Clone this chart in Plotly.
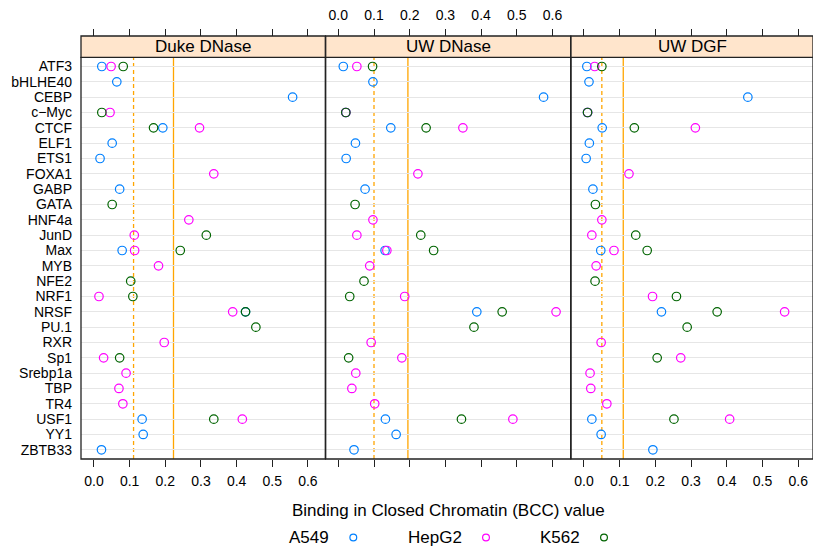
import plotly.graph_objects as go

# ---------------- data ----------------
factors = ["ATF3", "bHLHE40", "CEBP", "c\u2212Myc", "CTCF", "ELF1", "ETS1", "FOXA1",
           "GABP", "GATA", "HNF4a", "JunD", "Max", "MYB", "NFE2", "NRF1", "NRSF",
           "PU.1", "RXR", "Sp1", "Srebp1a", "TBP", "TR4", "USF1", "YY1", "ZBTB33"]
panels = ["Duke DNase", "UW DNase", "UW DGF"]
cell_lines = ["A549", "HepG2", "K562"]
x_ticks = [0.0, 0.1, 0.2, 0.3, 0.4, 0.5, 0.6]
x_tick_text = ["0.0", "0.1", "0.2", "0.3", "0.4", "0.5", "0.6"]

N = None
duke_a549 = [0.022, 0.064, 0.557, N, 0.193, 0.051, 0.017, N, 0.072, N, N, N, 0.079, N, N, N, 0.425, N, N, N, N, N, N, 0.135, 0.138, 0.021]
duke_hepg2 = [0.048, N, N, 0.045, 0.296, N, N, 0.336, N, N, 0.266, 0.113, 0.114, 0.181, N, 0.014, 0.389, N, 0.197, 0.027, 0.090, 0.070, 0.081, 0.416, N, N]
duke_k562 = [0.082, N, N, 0.022, 0.167, N, N, N, N, 0.051, N, 0.315, 0.242, N, 0.103, 0.109, 0.425, 0.454, N, 0.072, N, N, N, 0.336, N, N]

uwdn_a549 = [0.014, 0.097, 0.575, 0.021, 0.147, 0.048, 0.022, N, 0.075, N, N, N, 0.131, N, N, N, 0.388, N, N, N, N, N, N, 0.132, 0.162, 0.044]
uwdn_hepg2 = [0.052, N, N, 0.021, 0.349, N, N, 0.223, N, N, 0.097, 0.052, 0.136, 0.088, N, 0.186, 0.610, N, 0.092, 0.178, 0.049, 0.038, 0.102, 0.489, N, N]
uwdn_k562 = [0.096, N, N, 0.021, 0.246, N, N, N, N, 0.047, N, 0.231, 0.267, N, 0.072, 0.032, 0.459, 0.380, N, 0.029, N, N, N, 0.345, N, N]

uwdgf_a549 = [0.008, 0.014, 0.459, 0.010, 0.051, 0.015, 0.006, N, 0.025, N, N, N, 0.047, N, N, N, 0.217, N, N, N, N, N, N, 0.022, 0.048, 0.193]
uwdgf_hepg2 = [0.030, N, N, 0.010, 0.312, N, N, 0.126, N, N, 0.050, 0.022, 0.084, 0.034, N, 0.192, 0.562, N, 0.048, 0.271, 0.017, 0.019, 0.064, 0.408, N, N]
uwdgf_k562 = [0.050, N, N, 0.010, 0.141, N, N, N, N, 0.032, N, 0.145, 0.177, N, 0.031, 0.259, 0.373, 0.289, N, 0.205, N, N, N, 0.252, N, N]

dashed_ref = [0.111, 0.100, 0.050]
solid_ref = [0.223, 0.195, 0.110]

panel_data = [
    [duke_a549, duke_hepg2, duke_k562],
    [uwdn_a549, uwdn_hepg2, uwdn_k562],
    [uwdgf_a549, uwdgf_hepg2, uwdgf_k562],
]

# ---------------- style ----------------
W, H = 813, 547
ML, MR, MT, MB = 81, 0, 36, 88
PW, PH = W - ML - MR, H - MT - MB
colors = ["#0080ff", "#ff00ff", "#006400"]
FONT = "Liberation Sans, Arial, Helvetica, sans-serif"
ref_color = "#FFA500"


def px_x(p):
    return (p - ML) / PW


def px_y(p):
    return (H - MB - p) / PH


ydom_top = px_y(57.3)
domains = [[0.0, px_x(325.3)], [px_x(325.7), px_x(570.7)], [px_x(571.0), 1.0]]
ranges = [[-0.0364, 0.6487], [-0.0353, 0.6510], [-0.0364, 0.6415]]

fig = go.Figure()
axn = ["", "2", "3"]
for pi in range(3):
    for gi in range(3):
        vals = panel_data[pi][gi]
        xs = [v for v in vals if v is not None]
        ys = [f for f, v in zip(factors, vals) if v is not None]
        fig.add_trace(go.Scatter(
            x=xs, y=ys, mode="markers", xaxis="x" + axn[pi], yaxis="y",
            marker=dict(symbol="circle-open", size=8.5, color=colors[gi],
                        line=dict(width=1.2, color=colors[gi])),
            name=cell_lines[gi], showlegend=False))
    fig.add_trace(go.Scatter(x=[], y=[], xaxis="x" + str(pi + 4), yaxis="y",
                             showlegend=False, hoverinfo="skip"))

layout = dict(
    template="none",
    width=W, height=H, margin=dict(l=ML, r=MR, t=MT, b=MB, pad=0, autoexpand=False),
    plot_bgcolor="white", paper_bgcolor="white", showlegend=False,
    font=dict(family=FONT, size=14, color="black"),
    yaxis=dict(domain=[0, ydom_top], categoryorder="array",
               categoryarray=factors[::-1], range=[-0.6, 25.6],
               tickmode="array", tickvals=factors, ticktext=factors,
               automargin=False,
               showgrid=True, gridcolor="#E6E6E6", gridwidth=1,
               showline=False, zeroline=False, ticks="",
               ticklabelstandoff=8, tickfont=dict(size=14, family=FONT)),
)
for pi in range(3):
    key = "xaxis" + axn[pi]
    layout[key] = dict(
        domain=domains[pi], range=ranges[pi], anchor="y", automargin=False,
        tickmode="array", tickvals=x_ticks, ticktext=x_tick_text,
        showgrid=False, zeroline=False,
        showline=False, ticks="outside", ticklen=7, tickcolor="#222",
        tickwidth=1, showticklabels=(pi != 1), ticklabelstandoff=2,
        tickfont=dict(size=14, family=FONT))
    layout["xaxis" + str(pi + 4)] = dict(
        overlaying="x" + axn[pi], anchor="free", position=1, side="top",
        automargin=False,
        range=ranges[pi], tickmode="array", tickvals=x_ticks, ticktext=x_tick_text,
        showgrid=False, zeroline=False, showline=False, ticks="outside",
        ticklen=7, tickcolor="#222", tickwidth=1,
        showticklabels=(pi == 1), ticklabelstandoff=3,
        tickfont=dict(size=14, family=FONT))
fig.update_layout(**layout)

shapes = []
annotations = []
for pi in range(3):
    xa = "x" + axn[pi]
    shapes.append(dict(type="line", xref=xa, yref="y domain", x0=dashed_ref[pi],
                       x1=dashed_ref[pi], y0=0, y1=1, layer="below",
                       line=dict(color=ref_color, width=1.3, dash="4px,3px")))
    shapes.append(dict(type="line", xref=xa, yref="y domain", x0=solid_ref[pi],
                       x1=solid_ref[pi], y0=0, y1=1, layer="below",
                       line=dict(color=ref_color, width=1.3)))
    shapes.append(dict(type="rect", xref=xa + " domain", yref="y domain",
                       x0=0, x1=1, y0=0, y1=1, layer="above",
                       line=dict(color="#222", width=1.3)))
    shapes.append(dict(type="rect", xref=xa + " domain", yref="paper",
                       x0=0, x1=1, y0=ydom_top, y1=1.0, layer="above",
                       fillcolor="#FFE5CC", line=dict(color="#222", width=1.3)))
    annotations.append(dict(text=panels[pi], xref=xa + " domain", yref="paper",
                            x=0.5, y=(ydom_top + 1) / 2, showarrow=False,
                            xanchor="center", yanchor="middle",
                            font=dict(size=17, family=FONT, color="black")))

annotations.append(dict(text="Binding in Closed Chromatin (BCC) value",
                        xref="paper", yref="paper", x=px_x(448.5), y=px_y(510),
                        showarrow=False, xanchor="center", yanchor="middle",
                        font=dict(size=17, family=FONT, color="black")))
key_text_x = [308.8, 434.7, 560.0]
key_sym_x = [353.3, 486.0, 604.0]
key_y = 537.5
for gi in range(3):
    annotations.append(dict(text=cell_lines[gi], xref="paper", yref="paper",
                            x=px_x(key_text_x[gi]), y=px_y(key_y), showarrow=False,
                            xanchor="center", yanchor="middle",
                            font=dict(size=17, family=FONT, color="black")))
    r = 3.4
    shapes.append(dict(type="circle", xref="paper", yref="paper",
                       x0=px_x(key_sym_x[gi] - r), x1=px_x(key_sym_x[gi] + r),
                       y0=px_y(key_y + r), y1=px_y(key_y - r),
                       line=dict(color=colors[gi], width=1.2)))

fig.update_layout(shapes=shapes, annotations=annotations)
fig.write_html("out.html", config={"displayModeBar": False},
               post_script="document.body.style.margin='0px';document.body.style.overflow='hidden';")
